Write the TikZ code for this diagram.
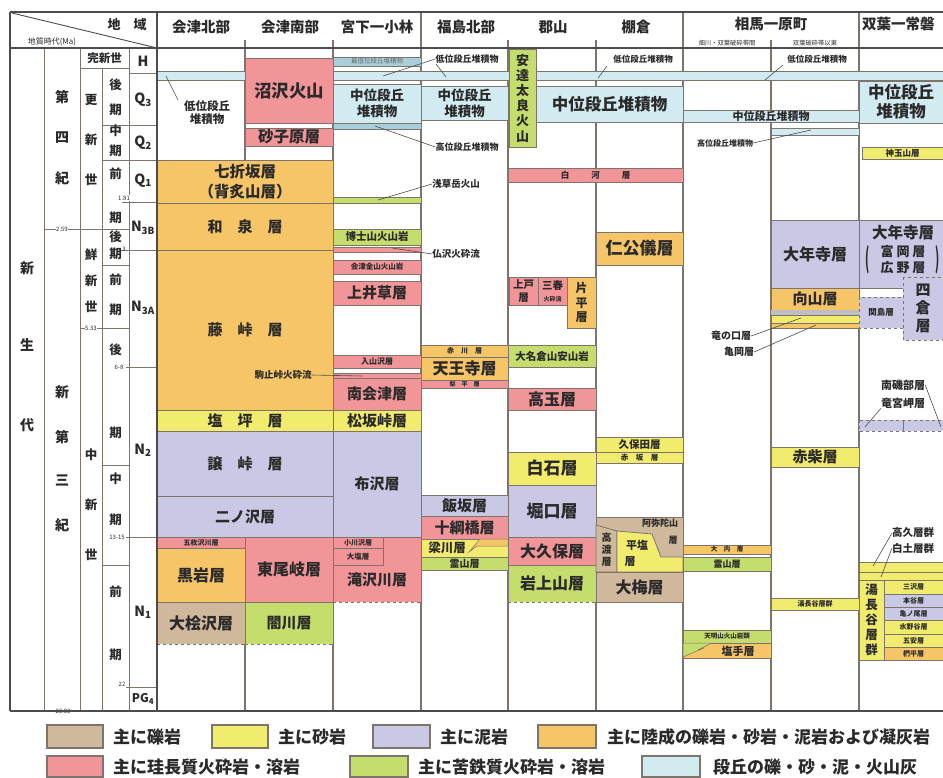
\documentclass[tikz,border=0pt]{standalone}
\usepackage{fontspec}
\setmainfont{Noto Sans CJK JP}
\usetikzlibrary{calc}
\definecolor{cOr}{HTML}{F6C567}
\definecolor{cLv}{HTML}{C9C9E5}
\definecolor{cPk}{HTML}{F29599}
\definecolor{cYe}{HTML}{F2EC6E}
\definecolor{cGr}{HTML}{C4DD6C}
\definecolor{cBr}{HTML}{CFB89C}
\definecolor{cBl}{HTML}{D2EBF0}
\definecolor{cBlb}{HTML}{A9D0DA}
\definecolor{cLn}{HTML}{7E746C}
\definecolor{cTx}{HTML}{2A2A2A}
\newcommand\fs[2]{\fontsize{#1}{#2}\selectfont\bfseries}
\newcommand\strat[7][]{%
  \draw[#2] (#3,#4) rectangle (#5,#6);
  \node[tx,#1] at ({(#3+#5)/2},{(#4+#6)/2}) {#7};}
\newcommand\stratd[7][]{%
  \fill[#2,draw=none] (#3,#4) rectangle (#5,#6);
  \draw[bd] (#3,#6) -- (#3,#4) -- (#5,#4) -- (#5,#6);
  \draw[bd,dashed] (#3,#6) -- (#5,#6);
  \node[tx,#1] at ({(#3+#5)/2},{(#4+#6)/2}) {#7};}
\begin{document}
\begin{tikzpicture}[x=1pt,y=-1pt,
  bd/.style={draw=cLn,line width=0.8pt},
  or/.style={bd,fill=cOr}, lv/.style={bd,fill=cLv}, pk/.style={bd,fill=cPk},
  ye/.style={bd,fill=cYe}, gr/.style={bd,fill=cGr}, br/.style={bd,fill=cBr},
  bl/.style={bd,fill=cBl}, blb/.style={bd,fill=cBlb},
  tx/.style={inner sep=0pt,align=center,text=cTx,font=\fs{15}{19}},
  col/.style={draw=cLn,line width=1.3pt},
  thin/.style={draw=cLn,line width=0.9pt},
  frm/.style={draw=black!70,line width=1.8pt},
  ld/.style={draw=black!70,line width=0.6pt},
  tick/.style={inner sep=0.5pt,fill=white,text=cTx,font=\fontsize{6}{6}\selectfont},
  lg/.style={draw=cLn,line width=1.2pt},
  lgt/.style={anchor=west,inner sep=0pt,text=cTx,font=\fs{17}{17}}]
\useasboundingbox (0,0) rectangle (943,778);
\fill[white] (0,0) rectangle (943,778);

% ---------- column lines ----------
\foreach \x in {245,333,508,596,771} \draw[col] (\x,40) -- (\x,711);
\foreach \x in {421,683,859} \draw[col] (\x,12) -- (\x,711);

% ---------- terrace band ----------
\fill[cBl] (157,71) rectangle (943,80);
\draw[bd] (157,71) -- (943,71) (157,80) -- (943,80);

% ---------- Aizu north / south shared ----------
\strat[font=\fs{15.5}{20}]{or}{157}{160}{333}{203}{七折坂層\\（背炙山層）}
\strat{or}{157}{203}{333}{250}{和　泉　層}
\strat{or}{157}{250}{333}{410}{藤　峠　層}
\strat{ye}{157}{410}{333}{431}{塩　坪　層}
\strat{lv}{157}{431}{333}{496}{譲　峠　層}
\strat{lv}{157}{496}{333}{537}{二ノ沢層}
% Aizu north
\strat[font=\fs{7}{7}]{pk}{157}{537}{245}{548}{五枚沢川層}
\strat[font=\fs{16}{16}]{or}{157}{548}{245}{602}{黒岩層}
\stratd[font=\fs{16}{16}]{br}{157}{602}{245}{644}{大桧沢層}
\node[tx,font=\fs{11.5}{13}] (aznl) at (207,113) {低位段丘\\堆積物};
\coordinate (aznb) at (166,76);
\draw[ld] (aznb) -- (178,100);
% Aizu south
\strat[font=\fs{17.5}{17}]{pk}{245}{58}{333}{123}{沼沢火山}
\strat[font=\fs{15.5}{16}]{pk}{245}{128}{333}{146}{砂子原層}
\strat[font=\fs{16}{16}]{pk}{245}{537}{333}{602}{東尾岐層}
\stratd[font=\fs{15}{16}]{gr}{245}{602}{333}{644}{闇川層}

% ---------- Miyashita ----------
\strat[font=\fontsize{6.5}{6.5}\selectfont,text=black!60]{blb}{333}{57}{421}{66}{最低位段丘堆積物}
\strat[font=\fs{13.5}{16}]{bl}{333}{84}{421}{123}{中位段丘\\堆積物}
\draw[blb] (333,123) rectangle (421,129);
\draw[gr] (333,197) rectangle (421,203);
\strat[font=\fs{10.5}{11}]{gr}{333}{229}{421}{245}{博士山火山岩}
\draw[pk] (333,247) rectangle (421,252);
\strat[font=\fs{7.5}{8}]{pk}{333}{260}{421}{274}{会津金山火山岩}
\strat{pk}{333}{281}{421}{305}{上井草層}
\strat[font=\fs{8}{8}]{pk}{333}{355}{421}{368}{入山沢層}
\draw[pk] (333,373) rectangle (421,378);
\strat{pk}{333}{378}{421}{410}{南会津層}
\strat{ye}{333}{410}{421}{431}{松坂峠層}
\strat{lv}{333}{431}{421}{537}{布沢層}
\fill[cPk] (333,537) rectangle (421,602);
\draw[bd] (333,602) -- (333,537) -- (421,537) -- (421,602);
\draw[bd,dashed] (333,602) -- (421,602);
\node[tx] (takisawa) at (377,580) {滝沢川層};
\strat[font=\fs{7}{7}]{pk}{333}{537}{383}{548}{小川沢層}
\strat[font=\fs{7.5}{7.5}]{pk}{333}{548}{383}{565}{大塩層}

% ---------- Fukushima north ----------
\strat[font=\fs{13.5}{16}]{bl}{421}{86}{508}{120}{中位段丘\\堆積物}
\strat[font=\fs{7}{7}]{or}{421}{345}{508}{357}{赤　川　層}
\strat[font=\fs{16}{16}]{or}{421}{357}{508}{380}{天王寺層}
\strat[font=\fs{6}{6}]{pk}{421}{380}{508}{388}{梨　平　層}
\strat{lv}{421}{495}{508}{516}{飯坂層}
\strat{pk}{421}{516}{508}{539}{十綱橋層}
\draw[ye] (421,539) rectangle (508,557);
\fill[cOr,draw=cLn,line width=0.5pt] (508,539) -- (480,539) -- (469,552) -- (477,546) -- (508,546) -- cycle;
\node[tx,font=\fs{12.5}{13}] (yanagawa) at (447,548) {梁川層};
\strat[font=\fs{10}{10}]{gr}{421}{557}{508}{570}{霊山層}

% ---------- Koriyama ----------
\strat[font=\fs{16.5}{16}]{bl}{536}{86}{683}{122}{中位段丘堆積物}
\strat[font=\fs{13}{15.2}]{gr}{509}{49}{536}{147}{安\\達\\太\\良\\火\\山}
\strat[font=\fs{8.5}{8}]{pk}{508}{168}{683}{182}{白\hspace{22pt}河\hspace{22pt}層}
\strat[font=\fs{10.5}{13.5}]{pk}{509}{277}{538}{305}{上戸\\層}
\draw[pk] (538,277) rectangle (567,305);
\node[tx,font=\fs{10.5}{10}] (miharu) at (552.5,286) {三春};
\node[tx,font=\fs{6}{6}] (miharu2) at (552.5,299) {火砕流};
\strat[font=\fs{12}{14.5}]{or}{567}{277}{596}{328}{片\\平\\層}
\strat[font=\fs{10.5}{10}]{gr}{508}{345}{596}{367}{大名倉山安山岩}
\strat[font=\fs{16}{16}]{pk}{508}{388}{596}{410}{高玉層}
\strat[font=\fs{17}{17}]{ye}{508}{452}{596}{485}{白石層}
\strat[font=\fs{17}{17}]{lv}{508}{485}{596}{537}{堀口層}
\strat[font=\fs{16}{16}]{pk}{508}{537}{596}{565}{大久保層}
\stratd[font=\fs{16}{16}]{gr}{508}{565}{596}{602}{岩上山層}

% ---------- Tanagura ----------
\strat[font=\fs{17}{17}]{or}{596}{232}{683}{265}{仁公儀層}
\strat[font=\fs{10.5}{10}]{ye}{596}{437}{683}{452}{久保田層}
\strat[font=\fs{7.5}{7.5}]{ye}{596}{452}{683}{463}{赤　坂　層}
\draw[br] (596,517) rectangle (683,572);
\draw[br] (596,525) -- (617,531) -- (617,572) -- (596,572) -- cycle;
\draw[ye] (617,531) -- (652,534) -- (661,557) -- (683,557) -- (683,572) -- (617,572) -- cycle;
\node[tx,font=\fs{9}{9}] (amida) at (660,523) {阿弥陀山};
\node[tx,font=\fs{9}{9}] (amida2) at (673,540) {層};
\node[tx,font=\fs{11}{11}] (hirashio) at (637,545) {平塩};
\node[tx,font=\fs{11}{11}] (hirashio2) at (630,562) {層};
\node[tx,font=\fs{10}{12}] (takado) at (606.5,550) {高\\渡\\層};
\strat[font=\fs{16}{16}]{br}{596}{572}{683}{602}{大梅層}

% ---------- Soma ----------
\strat[font=\fs{11}{11}]{bl}{683}{110}{859}{122}{中位段丘堆積物}
\draw[bl] (771,128) rectangle (859,135);
\strat[font=\fs{6.5}{6.5}]{or}{683}{545}{771}{554}{大　内　層}
\strat[font=\fs{9}{9}]{gr}{683}{557}{771}{571}{霊山層}
\strat[font=\fs{6.5}{6.5}]{gr}{683}{630}{771}{643}{天明山火山岩類}
\draw[or] (683,643) rectangle (771,658);
\fill[cGr,draw=cLn,line width=0.5pt] (683,643) -- (712,643) -- (698,650) -- (704,648) -- (683,657) -- cycle;
\node[tx,font=\fs{11}{11}] (shiode) at (738,651) {塩手層};
\strat[font=\fs{16}{16}]{lv}{771}{220}{859}{288}{大年寺層}
\strat{or}{771}{288}{859}{310}{向山層}
\fill[black!25] (771,310) rectangle (859,315);
\draw[ye] (771,315) rectangle (859,323);
\draw[or] (771,323) rectangle (859,328);
\strat{ye}{771}{447}{859}{467}{赤柴層}
\strat[font=\fs{7}{7}]{ye}{771}{598}{859}{610}{湯長谷層群}

% ---------- Futaba ----------
\strat[font=\fs{16.5}{19.5}]{bl}{859}{81}{943}{123}{中位段丘\\堆積物}
\strat[font=\fs{8.5}{8.5}]{ye}{862}{147}{943}{159}{神玉山層}
\draw[lv] (859,220) rectangle (943,288);
\node[tx,font=\fs{15.5}{15}] (dainenji) at (903,233) {大年寺層};
\node[tx,font=\fs{13}{16}] (tomioka) at (903,260) {富 岡 層\\広 野 層};
\node[tx,font=\fs{13}{13}] (parl) at (868,260) {\scalebox{0.8}[2.1]{(}};
\node[tx,font=\fs{13}{13}] (parr) at (938,260) {\scalebox{0.8}[2.1]{)}};
\draw[lv,dashed] (859,297) rectangle (903,328);
\node[tx,font=\fs{8.5}{8.5}] (sekijima) at (881,312) {関島層};
\draw[lv,dashed] (903,277) rectangle (943,340);
\node[tx,font=\fs{15}{18}] (yotsukura) at (923,308) {四\\倉\\層};
\draw[lv,dashed] (859,420) rectangle (943,431);
\draw[bd] (903,421) -- (903,431);
\draw[ye] (859,562) rectangle (943,572);
\draw[ye] (859,572) rectangle (943,580);
\strat[font=\fs{12.5}{15}]{ye}{859}{580}{884}{660}{湯\\長\\谷\\層\\群}
\strat[font=\fs{7}{7}]{ye}{884}{580}{943}{594}{三沢層}
\strat[font=\fs{7}{7}]{lv}{884}{594}{943}{607}{本谷層}
\strat[font=\fs{7}{7}]{lv}{884}{607}{943}{620}{亀ノ尾層}
\strat[font=\fs{7}{7}]{ye}{884}{620}{943}{634}{水野谷層}
\strat[font=\fs{7}{7}]{ye}{884}{634}{943}{647}{五安層}
\strat[font=\fs{7}{7}]{or}{884}{647}{943}{660}{椚平層}

% ---------- leader labels ----------
\node[tx,font=\fs{9}{9}] (fkl) at (467,59) {低位段丘堆積物};
\draw[ld] (fkl.west) -- (383,76);
\draw[ld] (436,64) -- (446,77);
\node[tx,font=\fs{9}{9}] (fkh) at (467,147) {高位段丘堆積物};
\draw[ld] (fkh.west) -- (375,126);
\node[tx,font=\fs{9.5}{9.5}] (asakusa) at (456,184) {浅草岳火山};
\draw[ld] (asakusa.west) -- (378,200);
\node[tx,font=\fs{9.5}{9.5}] (hotoke) at (456,254) {仏沢火砕流};
\draw[ld] (hotoke.west) -- (392,248);
\node[tx,font=\fs{9.5}{9.5}] (komado) at (283,375) {駒止峠火砕流};
\draw[ld] (komado.east) -- (362,376);
\node[tx,font=\fs{8.5}{8.5}] (tnl) at (643,59) {低位段丘堆積物};
\draw[ld] (607,66) -- (598,78);
\node[tx,font=\fs{8.5}{8.5}] (sml) at (817,59) {低位段丘堆積物};
\draw[ld] (783,65) -- (765,80);
\node[tx,font=\fs{8}{8}] (smh) at (725,143) {高位段丘堆積物};
\draw[ld] (smh.east) -- (811,130);
\node[tx,font=\fs{10}{10}] (tatsu) at (731,336) {竜の口層};
\node[tx,font=\fs{10}{10}] (kameoka) at (739,352) {亀岡層};
\draw[ld] (tatsu.east) -- (801,318);
\draw[ld] (kameoka.east) -- (816,325);
\node[tx,font=\fs{11}{11}] (minami) at (903,385) {南磯部層};
\node[tx,font=\fs{11}{11}] (ryugu) at (903,403) {竜宮岬層};
\draw[ld] (ryugu.south west) -- (865,427);
\draw[ld] (minami.east) -- (941,427);
\node[tx,font=\fs{10.5}{10.5},anchor=west] (takaku) at (892,533) {高久層群};
\node[tx,font=\fs{10.5}{10.5},anchor=west] (shirado) at (892,548) {白土層群};
\draw[ld] (takaku.west) -- (873,566);
\draw[ld] (shirado.west) -- (881,577);

% ---------- time scale ----------
\draw[thin] (44,48) -- (44,711);
\draw[thin] (80,48) -- (80,711);
\draw[thin] (102,68) -- (102,711);
\draw[thin] (129,48) -- (129,711);
\draw[thin] (80,68) -- (129,68);
\draw[thin] (129,73) -- (157,73);
\draw[thin] (102,125) -- (157,125);
\draw[thin] (102,160) -- (157,160);
\draw[thin] (122,202) -- (157,202);
\draw[thin] (44,229) -- (129,229);
\draw[thin] (120,250) -- (157,250);
\draw[thin] (102,265) -- (129,265);
\draw[thin] (80,328) -- (129,328);
\draw[thin] (126,367) -- (157,367);
\draw[thin] (102,465) -- (129,465);
\draw[thin] (126,537) -- (157,537);
\draw[thin] (102,565) -- (129,565);
\draw[thin] (126,687) -- (157,687);
\node[tick] (t181) at (124,198) {1.81};
\node[tick] (t259) at (62,229) {2.59};
\node[tick,fill=none] (t3) at (124,249) {3};
\node[tick] (t533) at (91,328) {5.33};
\node[tick] (t68) at (119,367) {6-8};
\node[tick] (t1315) at (117,537) {13-15};
\node[tick,fill=none] (t22) at (122,684) {22};
\node[tick] (t2303) at (63,711) {23.03};
\tikzset{ts/.style={tx,font=\fs{14}{14}}, ts4/.style={tx,font=\fs{12.5}{12.5}}}
\node[tx,font=\fs{11.5}{11.5}] (kanshin) at (104.5,58) {完新世};
\draw[thin] (80,48) rectangle (129,68);
\foreach \t/\y in {新/268,生/345,代/425} \node[ts] at (27,\y) {\t};
\foreach \t/\y in {第/97,四/138,紀/178,新/392,第/437,三/480,紀/525} \node[ts] at (62,\y) {\t};
\foreach \t/\y in {更/100,新/140,世/180,鮮/255,新/281,世/307,中/455,新/505,世/555} \node[ts4] at (91,\y) {\t};
\foreach \t/\y in {後/85,期/110,中/131,期/151,前/174,期/218,後/237,期/254,前/280,期/310,後/350,期/433,中/479,期/520,前/592,期/655} \node[ts4] at (115.5,\y) {\t};
\node[ts] (cH) at (143,61) {H};
\node[ts] (cQ3) at (143,100) {Q\textsubscript{3}};
\node[ts] (cQ2) at (143,143) {Q\textsubscript{2}};
\node[ts] (cQ1) at (143,181) {Q\textsubscript{1}};
\node[ts] (cN3B) at (143,228) {N\textsubscript{3B}};
\node[ts] (cN3A) at (143,308) {N\textsubscript{3A}};
\node[ts] (cN2) at (143,450) {N\textsubscript{2}};
\node[ts] (cN1) at (143,612) {N\textsubscript{1}};
\node[ts,font=\fs{12}{12}] (cPG) at (143,699) {PG\textsubscript{4}};

% ---------- header ----------
\draw[ld,line width=0.9pt] (12,13) -- (157,48);
\node[tx,font=\fs{13}{13}] (chiiki) at (127,25) {地　域};
\node[tx,font=\fontsize{8}{8}\selectfont] (chishitsu) at (52,42) {地質時代(Ma)};
\foreach \t/\x in {会津北部/201,会津南部/290,宮下一小林/377,福島北部/466,郡山/553,棚倉/636}
  \node[tx,font=\fs{14.5}{14.5}] at (\x,27) {\t};
\node[tx,font=\fs{14.5}{14.5}] (soma) at (771,24) {相馬一原町};
\node[tx,font=\fs{14.5}{14.5},anchor=west] (futaba) at (862,24) {双葉一常磐};
\node[tx,font=\fontsize{6.3}{6.3}\selectfont] (sub1) at (727,43) {畑川・双葉破砕帯間};
\node[tx,font=\fontsize{6.3}{6.3}\selectfont] (sub2) at (815,43) {双葉破砕帯以東};

% ---------- frame ----------
\draw[frm] (10,12) -- (943,12);
\draw[frm] (10,48) -- (943,48);
\draw[frm] (10,711) -- (943,711);
\draw[frm] (10,12) -- (10,711);
\draw[frm] (157,12) -- (157,711);

% ---------- legend ----------
\draw[lg,fill=cBr] (47,725) rectangle (103,748);
\node[lgt] (l1) at (113,737) {主に礫岩};
\draw[lg,fill=cYe] (212,725) rectangle (268,748);
\node[lgt] (l2) at (278,737) {主に砂岩};
\draw[lg,fill=cLv] (373,725) rectangle (430,748);
\node[lgt] (l3) at (440,737) {主に泥岩};
\draw[lg,fill=cOr] (538,725) rectangle (596,748);
\node[lgt] (l4) at (607,737) {主に陸成の礫岩・砂岩・泥岩および凝灰岩};
\draw[lg,fill=cPk] (47,756) rectangle (103,777);
\node[lgt] (l5) at (113,767) {主に珪長質火砕岩・溶岩};
\draw[lg,fill=cGr] (350,756) rectangle (408,777);
\node[lgt] (l6) at (418,767) {主に苦鉄質火砕岩・溶岩};
\draw[lg,fill=cBl] (642,756) rectangle (700,777);
\node[lgt] (l7) at (713,767) {段丘の礫・砂・泥・火山灰};
\end{tikzpicture}
\end{document}
